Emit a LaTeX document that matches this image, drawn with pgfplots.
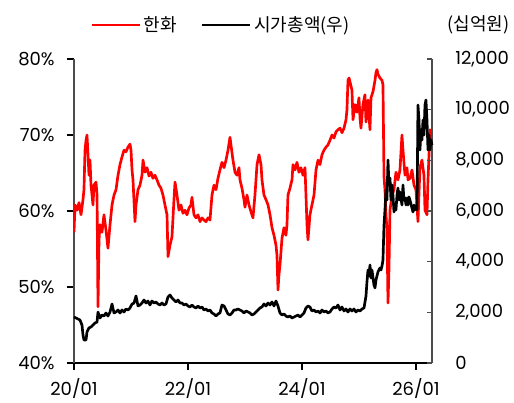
\documentclass[border=0pt]{standalone}
\usepackage{pgfplots}
\pgfplotsset{compat=1.18}
\usepackage{pgfplotstable}
\usepackage{fontspec}
\setmainfont{Poppins}
\newfontfamily\kr{Noto Sans CJK KR}

\pgfplotstableread{
year pct
2020.000 57.2
2020.018 60.8
2020.053 60.1
2020.088 61.1
2020.123 59.5
2020.158 61.5
2020.175 62.8
2020.193 68.0
2020.211 69.3
2020.228 70.0
2020.246 67.4
2020.263 64.7
2020.281 66.7
2020.298 63.4
2020.316 62.1
2020.333 60.8
2020.351 63.4
2020.386 63.8
2020.404 62.1
2020.421 47.4
2020.439 56.2
2020.456 58.2
2020.491 57.2
2020.526 59.5
2020.561 57.5
2020.596 55.1
2020.632 58.2
2020.667 60.8
2020.702 62.1
2020.737 62.8
2020.772 64.7
2020.807 66.1
2020.842 67.1
2020.877 68.0
2020.912 67.8
2020.947 68.4
2020.982 68.8
2021.000 68.0
2021.018 65.4
2021.035 64.1
2021.070 58.6
2021.088 60.8
2021.123 62.8
2021.158 63.4
2021.193 64.7
2021.211 66.7
2021.246 65.1
2021.281 65.7
2021.316 64.6
2021.351 65.1
2021.386 64.3
2021.421 64.7
2021.456 64.1
2021.491 63.4
2021.526 63.0
2021.561 62.1
2021.596 60.8
2021.632 59.5
2021.649 54.0
2021.684 55.5
2021.719 56.6
2021.754 61.5
2021.772 63.8
2021.807 62.1
2021.842 60.1
2021.877 60.8
2021.912 59.7
2021.947 60.1
2021.982 59.5
2022.018 60.4
2022.053 60.8
2022.070 61.8
2022.105 59.5
2022.140 59.1
2022.175 59.5
2022.211 58.6
2022.246 59.1
2022.281 58.8
2022.316 58.6
2022.351 59.1
2022.386 58.8
2022.421 62.1
2022.456 63.4
2022.491 62.8
2022.526 64.3
2022.561 65.4
2022.596 66.4
2022.632 65.7
2022.667 66.7
2022.702 68.0
2022.737 69.7
2022.754 68.7
2022.789 66.7
2022.825 65.1
2022.860 64.7
2022.895 65.7
2022.912 64.1
2022.947 63.0
2022.982 61.5
2023.000 60.5
2023.035 62.1
2023.070 60.8
2023.105 59.9
2023.140 59.1
2023.175 62.1
2023.211 66.1
2023.246 67.4
2023.281 66.1
2023.298 64.1
2023.333 62.1
2023.368 61.5
2023.404 60.8
2023.439 59.5
2023.474 57.8
2023.509 56.8
2023.544 55.5
2023.561 54.2
2023.579 49.6
2023.596 51.6
2023.614 52.9
2023.649 56.4
2023.684 57.8
2023.719 56.8
2023.737 58.2
2023.754 62.1
2023.789 63.0
2023.825 64.1
2023.842 66.1
2023.877 65.4
2023.912 66.4
2023.947 65.1
2023.982 65.7
2024.018 64.7
2024.053 65.7
2024.088 58.2
2024.105 56.2
2024.140 59.5
2024.175 60.8
2024.211 62.1
2024.246 65.4
2024.281 66.7
2024.316 66.1
2024.351 67.4
2024.386 68.0
2024.421 68.4
2024.456 68.7
2024.491 69.3
2024.526 70.0
2024.561 69.6
2024.596 70.4
2024.632 70.7
2024.667 70.9
2024.702 70.3
2024.737 70.9
2024.772 72.0
2024.789 73.3
2024.807 77.2
2024.825 77.5
2024.842 77.0
2024.877 75.9
2024.895 72.0
2024.930 74.0
2024.965 73.0
2025.000 74.9
2025.018 72.2
2025.035 70.9
2025.070 74.0
2025.105 75.3
2025.123 71.7
2025.158 74.6
2025.193 70.7
2025.211 74.9
2025.246 75.7
2025.281 77.2
2025.298 78.2
2025.316 78.6
2025.333 78.0
2025.368 77.5
2025.404 77.2
2025.421 76.6
2025.439 64.5
2025.456 62.8
2025.474 59.5
2025.491 57.5
2025.509 47.9
2025.526 52.2
2025.544 60.1
2025.579 62.1
2025.614 62.8
2025.649 65.1
2025.684 64.1
2025.719 65.4
2025.754 70.0
2025.772 68.0
2025.807 64.7
2025.842 65.7
2025.860 64.1
2025.895 64.3
2025.930 65.4
2025.965 63.4
2026.000 62.8
2026.035 58.6
2026.070 65.7
2026.105 66.7
2026.140 64.7
2026.158 60.1
2026.193 59.5
2026.211 64.1
2026.246 70.7
2026.281 69.3
}\hanwha

\pgfplotstableread{
year cap
2020.000 1816
2020.035 1776
2020.070 1737
2020.105 1697
2020.140 1500
2020.158 1105
2020.175 908
2020.211 908
2020.228 1224
2020.263 1382
2020.298 1421
2020.333 1500
2020.368 1579
2020.404 1618
2020.421 2013
2020.456 1776
2020.491 1895
2020.526 1855
2020.561 1974
2020.596 1855
2020.632 2013
2020.667 2329
2020.702 1974
2020.737 2013
2020.772 2092
2020.807 1974
2020.842 2092
2020.877 2013
2020.912 2132
2020.947 2092
2020.982 2171
2021.018 2329
2021.053 2368
2021.088 2645
2021.123 2250
2021.158 2289
2021.193 2368
2021.228 2487
2021.263 2368
2021.298 2447
2021.333 2289
2021.368 2447
2021.404 2368
2021.439 2408
2021.474 2329
2021.509 2289
2021.544 2368
2021.579 2289
2021.614 2329
2021.649 2605
2021.684 2684
2021.719 2566
2021.754 2487
2021.789 2408
2021.825 2487
2021.860 2368
2021.895 2368
2021.930 2289
2021.965 2329
2022.000 2250
2022.035 2211
2022.070 2289
2022.105 2211
2022.140 2171
2022.175 2250
2022.211 2171
2022.246 2211
2022.281 2092
2022.316 2132
2022.351 2053
2022.386 2092
2022.421 1974
2022.456 1934
2022.491 1855
2022.526 1934
2022.561 1974
2022.596 2289
2022.632 2250
2022.667 2092
2022.702 1934
2022.737 1895
2022.772 1974
2022.807 2092
2022.842 2092
2022.877 2132
2022.912 2092
2022.947 2053
2022.982 1974
2023.018 2053
2023.053 2013
2023.088 1974
2023.123 1895
2023.158 1934
2023.193 2013
2023.228 2092
2023.263 2171
2023.298 2211
2023.333 2329
2023.368 2250
2023.404 2368
2023.439 2289
2023.474 2408
2023.509 2250
2023.544 2447
2023.579 2250
2023.614 1974
2023.649 1895
2023.684 1934
2023.719 1855
2023.754 1816
2023.789 1855
2023.825 1776
2023.860 1816
2023.895 1855
2023.930 1895
2023.965 1816
2024.000 1895
2024.035 1974
2024.070 2171
2024.105 2250
2024.140 2211
2024.175 2053
2024.211 2092
2024.246 2013
2024.281 2053
2024.316 1974
2024.351 2092
2024.386 2013
2024.421 2053
2024.456 1974
2024.491 2013
2024.526 2132
2024.561 2211
2024.596 2171
2024.632 2289
2024.667 2092
2024.702 2211
2024.737 2053
2024.772 2132
2024.807 2013
2024.842 2132
2024.877 2053
2024.912 2132
2024.947 2013
2024.982 2092
2025.018 2053
2025.053 2132
2025.088 2171
2025.123 2645
2025.140 3197
2025.158 3671
2025.175 3434
2025.193 3868
2025.211 3355
2025.228 3671
2025.263 3079
2025.281 2961
2025.298 3276
2025.333 3592
2025.368 3750
2025.386 3671
2025.404 3829
2025.421 4066
2025.439 5447
2025.456 6039
2025.474 6829
2025.491 6434
2025.509 8013
2025.526 7026
2025.544 7303
2025.561 6434
2025.579 7026
2025.596 6632
2025.614 5961
2025.632 6237
2025.649 6039
2025.667 6632
2025.684 6908
2025.702 6434
2025.719 6750
2025.754 6237
2025.772 7026
2025.789 6434
2025.807 6513
2025.825 6237
2025.842 6513
2025.860 6237
2025.877 6553
2025.895 6434
2025.930 6118
2025.947 5961
2025.965 6237
2025.982 6039
2026.000 6158
2026.018 6039
2026.035 10184
2026.053 9592
2026.070 8408
2026.088 9197
2026.105 8803
2026.123 9592
2026.140 9000
2026.158 10184
2026.175 10382
2026.193 9592
2026.211 8408
2026.228 9000
2026.246 8408
2026.263 8803
2026.281 8605
}\mktcap

\pgfplotsset{
  base/.style={
    scale only axis, width=268.5pt, height=228pt,
    at={(55.5pt,30pt)}, anchor=south west,
    xmin=2020, xmax=2026.281,
    ticklabel style={font=\fontsize{13.5}{15}\selectfont},
    /pgf/number format/assume math mode=true,
  },
}

\begin{document}
\begin{tikzpicture}
\useasboundingbox (0,0) rectangle (385.5pt,302.25pt);
\begin{axis}[base,
  ymin=40, ymax=80, ytick={40,50,60,70,80},
  yticklabel={\pgfmathprintnumber{\tick}\%},
  axis x line*=bottom, axis y line*=left,
  xtick={2020,2022,2024,2026},
  xticklabels={20/01,22/01,24/01,26/01},
  tick align=outside, major tick length=5pt,
  x axis line style={black, line width=0.8pt},
  y axis line style={black!70, line width=0.8pt},
  tick style={black, line width=0.8pt},
  yticklabel style={xshift=-6pt},
  xticklabel style={yshift=-3pt},
]
\addplot[red, line width=2pt, line join=round] table[x=year, y=pct] {\hanwha};
\end{axis}
\begin{axis}[base,
  ymin=0, ymax=12000, ytick={0,2000,...,12000},
  scaled y ticks=false,
  axis y line*=right, axis x line=none,
  tick align=inside, major tick length=4pt,
  y axis line style={black!70, line width=0.8pt},
  tick style={black!70, line width=0.8pt},
  yticklabel style={/pgf/number format/1000 sep={,}, xshift=14pt},
  clip=false,
  legend columns=2,
  legend style={draw=none, fill=none, at={(0.412,1.112)}, anchor=center,
    font=\kr\fontsize{13.5}{15}\selectfont,
    /tikz/every even column/.append style={column sep=16pt}},
  legend image code/.code={\draw[#1] (0pt,0pt) -- (36pt,0pt);},
]
\addlegendimage{red, line width=1.7pt}
\addlegendentry{한화}
\addplot[black, line width=2pt, line join=round] table[x=year, y=cap] {\mktcap};
\addlegendentry{시가총액(우)}
\node[font=\kr\fontsize{13.5}{15}\selectfont] at (rel axis cs:1.13,1.112) {(십억원)};
\end{axis}
\end{tikzpicture}
\end{document}
